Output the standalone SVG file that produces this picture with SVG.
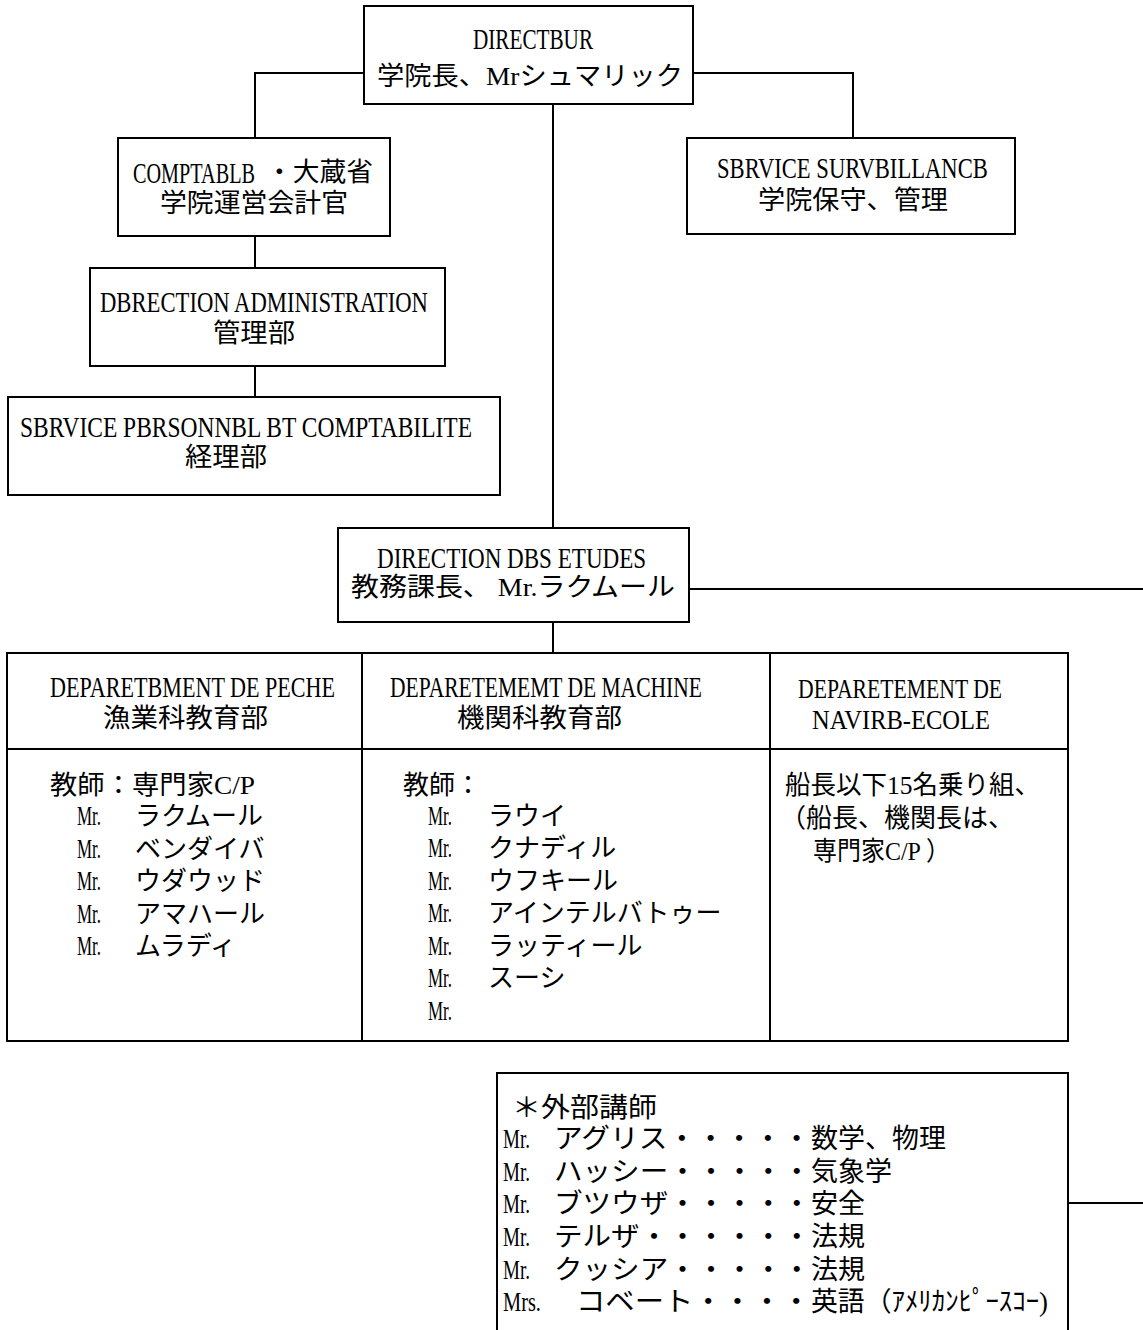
<svg xmlns="http://www.w3.org/2000/svg" width="1143" height="1330" viewBox="0 0 1143 1330">
<style>
.box{fill:#fff;stroke:#000;stroke-width:2}
.ln{fill:none;stroke:#000;stroke-width:2}
text{font-family:"Liberation Serif","Noto Sans CJK JP",serif;fill:#000}
.lat{font-size:30px}
.lat2{font-size:28px}
.jp{font-size:26px}
.mr{font-size:28px}
.ex{font-size:27px}
</style>
<defs>
<text id="mr" class="mr" x="0" y="0" textLength="41.2" lengthAdjust="spacingAndGlyphs">Mr.</text>
</defs>
<rect width="1143" height="1330" fill="#fff"/>
<g id="connectors">
<polyline class="ln" points="364,73 255,73 255,138"/>
<polyline class="ln" points="693,73 853,73 853,138"/>
<line class="ln" x1="255" y1="236" x2="255" y2="268"/>
<line class="ln" x1="255" y1="366" x2="255" y2="397"/>
<line class="ln" x1="553" y1="104" x2="553" y2="528"/>
<line class="ln" x1="553" y1="622" x2="553" y2="653"/>
<line class="ln" x1="689" y1="589" x2="1143" y2="589"/>
<line class="ln" x1="1068" y1="1203" x2="1143" y2="1203"/>
</g>
<g id="directeur">
<rect class="box" x="364" y="6" width="329" height="98"/>
<text class="lat" transform="translate(473 49) scale(0.706 1)" textLength="170" lengthAdjust="spacingAndGlyphs">DIRECTBUR</text>
<text class="jp" x="377" y="85" textLength="306" lengthAdjust="spacingAndGlyphs">学院長、Mrシュマリック</text>
</g>
<g id="comptable">
<rect class="box" x="118" y="138" width="272" height="98"/>
<text class="lat" transform="translate(133 183) scale(0.665 1)" textLength="183.5" lengthAdjust="spacingAndGlyphs">COMPTABLB</text>
<text class="jp" x="266" y="181" textLength="107" lengthAdjust="spacingAndGlyphs">・大蔵省</text>
<text class="jp" x="160" y="212" textLength="188" lengthAdjust="spacingAndGlyphs">学院運営会計官</text>
</g>
<g id="direction-administration">
<rect class="box" x="90" y="268" width="355" height="98"/>
<text class="lat" transform="translate(100 312) scale(0.747 1)" textLength="439" lengthAdjust="spacingAndGlyphs">DBRECTION ADMINISTRATION</text>
<text class="jp" x="213" y="342" textLength="82" lengthAdjust="spacingAndGlyphs">管理部</text>
</g>
<g id="service-personnel">
<rect class="box" x="8" y="397" width="492" height="98"/>
<text class="lat" transform="translate(20 437) scale(0.774 1)" textLength="584" lengthAdjust="spacingAndGlyphs">SBRVICE PBRSONNBL BT COMPTABILITE</text>
<text class="jp" x="185" y="466" textLength="82" lengthAdjust="spacingAndGlyphs">経理部</text>
</g>
<g id="service-surveillance">
<rect class="box" x="687" y="138" width="328" height="96"/>
<text class="lat" transform="translate(717 178) scale(0.744 1)" textLength="364" lengthAdjust="spacingAndGlyphs">SBRVICE SURVBILLANCB</text>
<text class="jp" x="758" y="209" textLength="190" lengthAdjust="spacingAndGlyphs">学院保守、管理</text>
</g>
<g id="direction-etudes">
<rect class="box" x="338" y="528" width="351" height="94"/>
<text class="lat" transform="translate(377 568) scale(0.769 1)" textLength="350" lengthAdjust="spacingAndGlyphs">DIRECTION DBS ETUDES</text>
<text class="jp" x="351" y="596" textLength="324" lengthAdjust="spacingAndGlyphs">教務課長、 Mr.ラクムール</text>
</g>
<g id="dept-peche">
<rect class="box" x="7" y="653" width="355" height="388"/>
<line class="ln" x1="7" y1="749" x2="362" y2="749"/>
<text class="lat" transform="translate(50 697) scale(0.731 1)" textLength="390" lengthAdjust="spacingAndGlyphs">DEPARETBMENT DE PECHE</text>
<text class="jp" x="103" y="727" textLength="165" lengthAdjust="spacingAndGlyphs">漁業科教育部</text>
<text class="jp" x="50" y="794" textLength="205" lengthAdjust="spacingAndGlyphs">教師：専門家C/P</text>
<use href="#mr" transform="translate(77 825) scale(0.583 1)"/><text class="jp" x="135" y="825">ラクムール</text>
<use href="#mr" transform="translate(77 858) scale(0.583 1)"/><text class="jp" x="135" y="858">ベンダイバ</text>
<use href="#mr" transform="translate(77 890) scale(0.583 1)"/><text class="jp" x="135" y="890">ウダウッド</text>
<use href="#mr" transform="translate(77 923) scale(0.583 1)"/><text class="jp" x="135" y="923">アマハール</text>
<use href="#mr" transform="translate(77 955) scale(0.583 1)"/><text class="jp" x="135" y="955">ムラディ</text>
</g>
<g id="dept-machine">
<rect class="box" x="362" y="653" width="408" height="388"/>
<line class="ln" x1="362" y1="749" x2="770" y2="749"/>
<text class="lat" transform="translate(390 697) scale(0.712 1)" textLength="438" lengthAdjust="spacingAndGlyphs">DEPARETEMEMT DE MACHINE</text>
<text class="jp" x="457" y="727" textLength="165" lengthAdjust="spacingAndGlyphs">機関科教育部</text>
<text class="jp" x="403" y="794">教師：</text>
<use href="#mr" transform="translate(428 825) scale(0.583 1)"/><text class="jp" x="488" y="825">ラウイ</text>
<use href="#mr" transform="translate(428 857) scale(0.583 1)"/><text class="jp" x="488" y="857">クナディル</text>
<use href="#mr" transform="translate(428 890) scale(0.583 1)"/><text class="jp" x="488" y="890">ウフキール</text>
<use href="#mr" transform="translate(428 922) scale(0.583 1)"/><text class="jp" x="488" y="922">アインテルバトゥー</text>
<use href="#mr" transform="translate(428 955) scale(0.583 1)"/><text class="jp" x="488" y="955">ラッティール</text>
<use href="#mr" transform="translate(428 987) scale(0.583 1)"/><text class="jp" x="488" y="987">スーシ</text>
<use href="#mr" transform="translate(428 1020) scale(0.583 1)"/>
</g>
<g id="dept-navire-ecole">
<rect class="box" x="770" y="653" width="298" height="388"/>
<line class="ln" x1="770" y1="749" x2="1068" y2="749"/>
<text class="lat2" transform="translate(798 698) scale(0.734 1)" textLength="278" lengthAdjust="spacingAndGlyphs">DEPARETEMENT DE</text>
<text class="lat2" transform="translate(812 729) scale(0.86 1)" textLength="207" lengthAdjust="spacingAndGlyphs">NAVIRB-ECOLE</text>
<text class="jp" x="785" y="794" textLength="255" lengthAdjust="spacingAndGlyphs">船長以下15名乗り組、</text>
<text class="jp" x="780" y="827" textLength="234" lengthAdjust="spacingAndGlyphs">（船長、機関長は、</text>
<text class="jp" x="813" y="860" textLength="137" lengthAdjust="spacingAndGlyphs">専門家C/P ）</text>
</g>
<g id="external-lecturers">
<rect class="box" x="497" y="1073" width="571" height="280"/>
<text class="ex" x="512" y="1117" textLength="145" lengthAdjust="spacingAndGlyphs">＊外部講師</text>
<use href="#mr" transform="translate(503 1148) scale(0.655 1)"/>
<text class="ex" x="554" y="1148" textLength="257" lengthAdjust="spacingAndGlyphs">アグリス・・・・・</text>
<text class="ex" x="811" y="1148">数学、物理</text>
<use href="#mr" transform="translate(503 1181) scale(0.655 1)"/>
<text class="ex" x="554" y="1181" textLength="257" lengthAdjust="spacingAndGlyphs">ハッシー・・・・・</text>
<text class="ex" x="811" y="1181">気象学</text>
<use href="#mr" transform="translate(503 1213) scale(0.655 1)"/>
<text class="ex" x="554" y="1213" textLength="257" lengthAdjust="spacingAndGlyphs">ブツウザ・・・・・</text>
<text class="ex" x="811" y="1213">安全</text>
<use href="#mr" transform="translate(503 1246) scale(0.655 1)"/>
<text class="ex" x="554" y="1246" textLength="257" lengthAdjust="spacingAndGlyphs">テルザ・・・・・・</text>
<text class="ex" x="811" y="1246">法規</text>
<use href="#mr" transform="translate(503 1279) scale(0.655 1)"/>
<text class="ex" x="554" y="1279" textLength="257" lengthAdjust="spacingAndGlyphs">クッシア・・・・・</text>
<text class="ex" x="811" y="1279">法規</text>
<text class="mr" transform="translate(503 1311) scale(0.729 1)" textLength="52.1" lengthAdjust="spacingAndGlyphs">Mrs.</text>
<text class="ex" x="576" y="1311" textLength="235" lengthAdjust="spacingAndGlyphs">コベート・・・・</text>
<text class="ex" x="811" y="1311" textLength="237" lengthAdjust="spacingAndGlyphs">英語（ｱﾒﾘｶﾝﾋﾟｰｽｺｰ)</text>
</g>
</svg>
